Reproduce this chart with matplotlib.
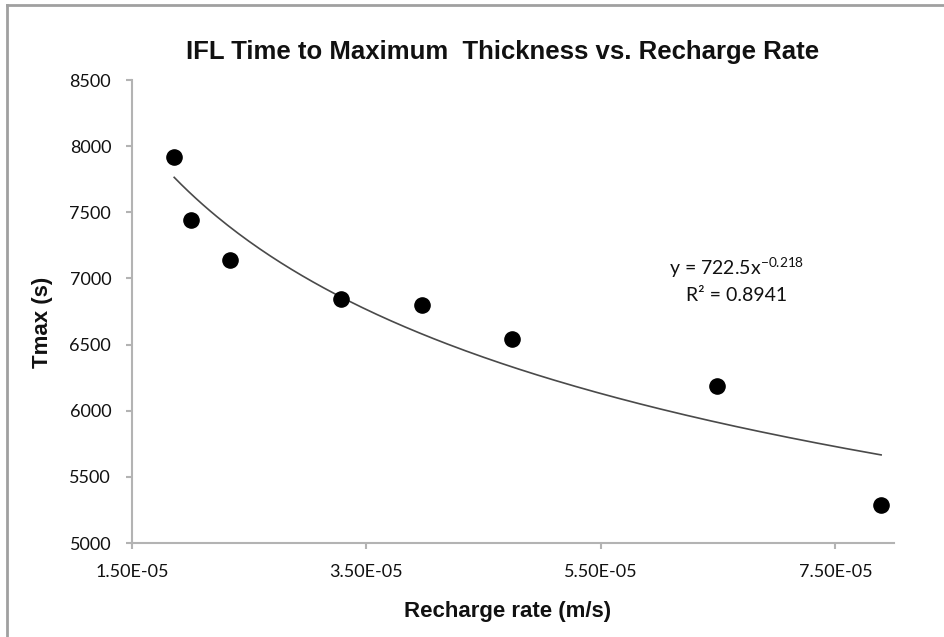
import numpy as np
import matplotlib
matplotlib.use("Agg")
import matplotlib.pyplot as plt
from matplotlib.lines import Line2D
from matplotlib.ticker import FuncFormatter

# --------------------------------------------------
# Data
# --------------------------------------------------
recharge_rate = [1.86e-5, 2.00e-5, 2.34e-5, 3.28e-5, 3.97e-5, 4.74e-5, 6.49e-5, 7.89e-5]
tmax = [7915, 7440, 7140, 6845, 6800, 6545, 6185, 5285]

# power trendline reported on the chart
fit_a = 722.5
fit_b = -0.218
fit_r2 = 0.8941

x_ticks = [1.5e-5, 3.5e-5, 5.5e-5, 7.5e-5]
y_ticks = [5000, 5500, 6000, 6500, 7000, 7500, 8000, 8500]

axis_grey = "#b3b3b3"
text_col = "#111111"

fig = plt.figure(figsize=(9.44, 6.37), dpi=100)
ax = fig.add_axes([132 / 944, 1 - 543 / 637, (894 - 132) / 944, (543 - 80) / 637])

# trendline over the data range
xs = np.linspace(min(recharge_rate), max(recharge_rate), 200)
ax.plot(xs, fit_a * xs ** fit_b, color="#4a4a4a", lw=1.2, zorder=2)

ax.scatter(recharge_rate, tmax, s=120, color="black", zorder=3)

ax.set_xlim(1.5e-5, 8.0e-5)
ax.set_ylim(5000, 8500)
ax.set_xticks(x_ticks)
ax.set_yticks(y_ticks)
ax.xaxis.set_major_formatter(FuncFormatter(lambda v, p: f"{v:.2E}"))

for side in ["top", "right"]:
    ax.spines[side].set_visible(False)
for side in ["left", "bottom"]:
    ax.spines[side].set_color(axis_grey)
    ax.spines[side].set_linewidth(1.5)

ax.tick_params(axis="both", direction="out", length=4, width=1.5, color=axis_grey,
               labelsize=13, labelcolor=text_col)
ax.tick_params(axis="y", pad=11)
ax.tick_params(axis="x", pad=11)
for lab in ax.get_xticklabels() + ax.get_yticklabels():
    lab.set_family("Lato")

ax.set_xlabel("Recharge rate (m/s)", fontsize=16, fontweight="bold",
              family="Liberation Sans", color=text_col)
ax.set_ylabel("Tmax (s)", fontsize=16, fontweight="bold",
              family="Liberation Sans", color=text_col)
ax.xaxis.set_label_coords(0.493, -0.149)
ax.yaxis.set_label_coords(-0.118, 0.477)
ax.xaxis.label.set_va("center")
ax.yaxis.label.set_va("center")
ax.yaxis.label.set_ha("center")

fig.text(503 / 944, 1 - 52 / 637, "IFL Time to Maximum  Thickness vs. Recharge Rate",
         fontsize=18.5, fontweight="bold", family="Liberation Sans",
         ha="center", va="center", color=text_col)

fig.text(737 / 944, 1 - 268 / 637, r"y = 722.5x$^{\mathregular{-0.218}}$",
         fontsize=14, family="Lato", ha="center", va="center", color=text_col)
fig.text(737 / 944, 1 - 296 / 637, f"R² = {fit_r2}",
         fontsize=14, family="Lato", ha="center", va="center", color=text_col)

# chart area border (top and left visible)
fig.add_artist(Line2D([7 / 944, 7 / 944], [0, 1 - 5 / 637], transform=fig.transFigure,
                      color="#a0a0a0", lw=2))
fig.add_artist(Line2D([7 / 944, 1], [1 - 5 / 637, 1 - 5 / 637], transform=fig.transFigure,
                      color="#a0a0a0", lw=2))

fig.savefig("out.png", dpi=100)
